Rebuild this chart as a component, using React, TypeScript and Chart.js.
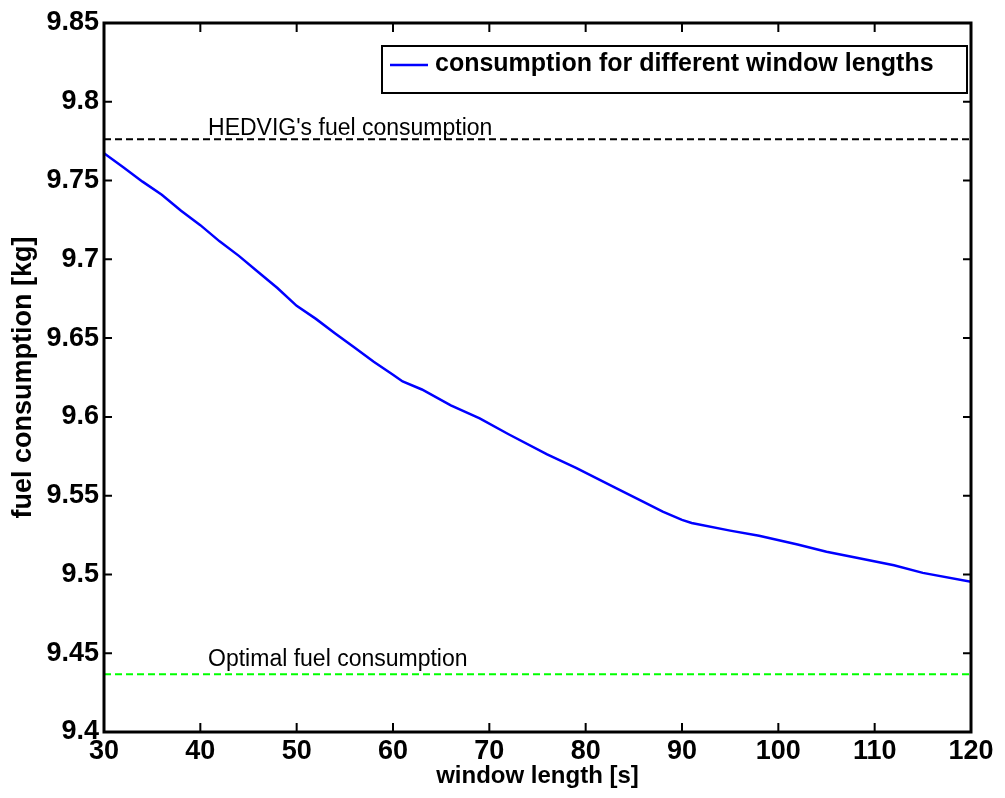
import React, { useEffect, useRef } from "react";
import { Chart, registerables } from "chart.js";

Chart.register(...registerables);

const FONT = "'Liberation Sans', Arial, Helvetica, sans-serif";

// window length [s]
const windowLengths = [
  30, 32, 34, 36, 38, 40, 42, 44, 46, 48, 50, 52, 54, 56, 58, 60, 61, 63, 66, 69,
  72, 76, 79, 83, 86, 88, 90, 91, 95, 98, 102, 105, 108, 112, 115, 120,
];
// fuel consumption [kg]
const consumption = [
  9.7673, 9.7585, 9.7493, 9.741, 9.7308, 9.7217, 9.7114, 9.7022, 9.692, 9.6818,
  9.6705, 9.6622, 9.653, 9.644, 9.635, 9.6268, 9.6225, 9.6174, 9.6073, 9.5991,
  9.589, 9.5762, 9.5676, 9.5552, 9.546, 9.5398, 9.5346, 9.5327, 9.5278, 9.5245,
  9.519, 9.5144, 9.5108, 9.5058, 9.501, 9.4954,
];

const referenceX = [30, 120];
const hedvigLevel = 9.7762;
const optimalLevel = 9.4366;

const annotationX = 40.8;
const hedvigTextY = 9.779;
const optimalTextY = 9.442;

const xMin = 30;
const xMax = 120;
const xStep = 10;
const yMin = 9.4;
const yMax = 9.85;
const yStep = 0.05;

const legendLabel = "consumption for different window lengths";
const hedvigLabel = "HEDVIG's fuel consumption";
const optimalLabel = "Optimal fuel consumption";
const xTitle = "window length [s]";
const yTitle = "fuel consumption [kg]";

const framePlugin = {
  id: "matlabFrame",
  afterDraw(chart: any) {
    const { ctx, chartArea: a, scales } = chart;
    const xs = scales.x;
    const ys = scales.y;
    ctx.save();
    ctx.strokeStyle = "#000";

    // inward ticks on all four sides
    ctx.lineWidth = 2;
    ctx.beginPath();
    xs.ticks.forEach((t: any) => {
      const p = xs.getPixelForValue(t.value);
      ctx.moveTo(p, a.bottom);
      ctx.lineTo(p, a.bottom - 9);
      ctx.moveTo(p, a.top);
      ctx.lineTo(p, a.top + 9);
    });
    ys.ticks.forEach((t: any) => {
      const p = ys.getPixelForValue(t.value);
      ctx.moveTo(a.left, p);
      ctx.lineTo(a.left + 8, p);
      ctx.moveTo(a.right, p);
      ctx.lineTo(a.right - 8, p);
    });
    ctx.stroke();

    // frame
    ctx.lineWidth = 3;
    ctx.strokeRect(a.left, a.top, a.right - a.left, a.bottom - a.top);

    // reference-line annotations
    ctx.fillStyle = "#000";
    ctx.font = `23px ${FONT}`;
    ctx.textAlign = "left";
    ctx.textBaseline = "alphabetic";
    ctx.fillText(hedvigLabel, xs.getPixelForValue(annotationX), ys.getPixelForValue(hedvigTextY));
    ctx.fillText(optimalLabel, xs.getPixelForValue(annotationX), ys.getPixelForValue(optimalTextY));

    // legend box
    const ds = chart.data.datasets[0];
    const bw = 585;
    const bh = 47;
    const bx = a.right - 4 - bw;
    const by = a.top + 23;
    ctx.fillStyle = "#fff";
    ctx.fillRect(bx, by, bw, bh);
    ctx.lineWidth = 2;
    ctx.strokeStyle = "#000";
    ctx.strokeRect(bx, by, bw, bh);
    ctx.strokeStyle = ds.borderColor;
    ctx.lineWidth = 2.5;
    ctx.beginPath();
    ctx.moveTo(bx + 8, by + 19);
    ctx.lineTo(bx + 46, by + 19);
    ctx.stroke();
    ctx.fillStyle = "#000";
    ctx.font = `bold 25px ${FONT}`;
    ctx.fillText(ds.label, bx + 53, by + 25);

    ctx.restore();
  },
};

export default function App() {
  const canvasRef = useRef<HTMLCanvasElement | null>(null);

  useEffect(() => {
    if (!canvasRef.current) return;
    const chart = new Chart(canvasRef.current, {
      type: "line",
      data: {
        datasets: [
          {
            label: legendLabel,
            data: windowLengths.map((x, i) => ({ x, y: consumption[i] })),
            borderColor: "#0000ff",
            borderWidth: 2.5,
            pointRadius: 0,
            tension: 0,
            fill: false,
          },
          {
            label: hedvigLabel,
            data: referenceX.map((x) => ({ x, y: hedvigLevel })),
            borderColor: "#000000",
            borderWidth: 2,
            borderDash: [7, 4],
            pointRadius: 0,
            fill: false,
          },
          {
            label: optimalLabel,
            data: referenceX.map((x) => ({ x, y: optimalLevel })),
            borderColor: "#00ff00",
            borderWidth: 2,
            borderDash: [7, 4],
            pointRadius: 0,
            fill: false,
          },
        ],
      },
      options: {
        responsive: false,
        animation: false,
        layout: { padding: { top: 23, right: 34, left: 0, bottom: 0 } },
        plugins: {
          legend: { display: false },
          tooltip: { enabled: false },
        },
        scales: {
          x: {
            type: "linear",
            min: xMin,
            max: xMax,
            grid: { display: false, drawTicks: false },
            border: { display: false },
            ticks: {
              stepSize: xStep,
              padding: 3,
              color: "#000",
              font: { family: FONT, size: 27, weight: "bold" },
              maxRotation: 0,
            },
            title: {
              display: true,
              text: xTitle,
              color: "#000",
              font: { family: FONT, size: 24, weight: "bold" },
              padding: { top: 0, bottom: 7 },
            },
            afterFit: (s: any) => {
              s.height = 66;
            },
          },
          y: {
            type: "linear",
            min: yMin,
            max: yMax,
            grid: { display: false, drawTicks: false },
            border: { display: false },
            ticks: {
              stepSize: yStep,
              padding: 5,
              color: "#000",
              font: { family: FONT, size: 27, weight: "bold" },
              callback: (v: any) => {
                const s = Number(v).toFixed(2);
                return s.replace(/0$/, "").replace(/\.$/, "");
              },
            },
            title: {
              display: true,
              text: yTitle,
              color: "#000",
              font: { family: FONT, size: 27, weight: "bold" },
              padding: { top: 7, bottom: 0 },
            },
            afterFit: (s: any) => {
              s.width = 104;
            },
          },
        },
      },
      plugins: [framePlugin],
    });
    return () => chart.destroy();
  }, []);

  return (
    <div style={{ position: "absolute", left: 0, top: 0, width: 1005, height: 798, background: "#fff" }}>
      <canvas ref={canvasRef} width={1005} height={798} style={{ display: "block" }} />
    </div>
  );
}
